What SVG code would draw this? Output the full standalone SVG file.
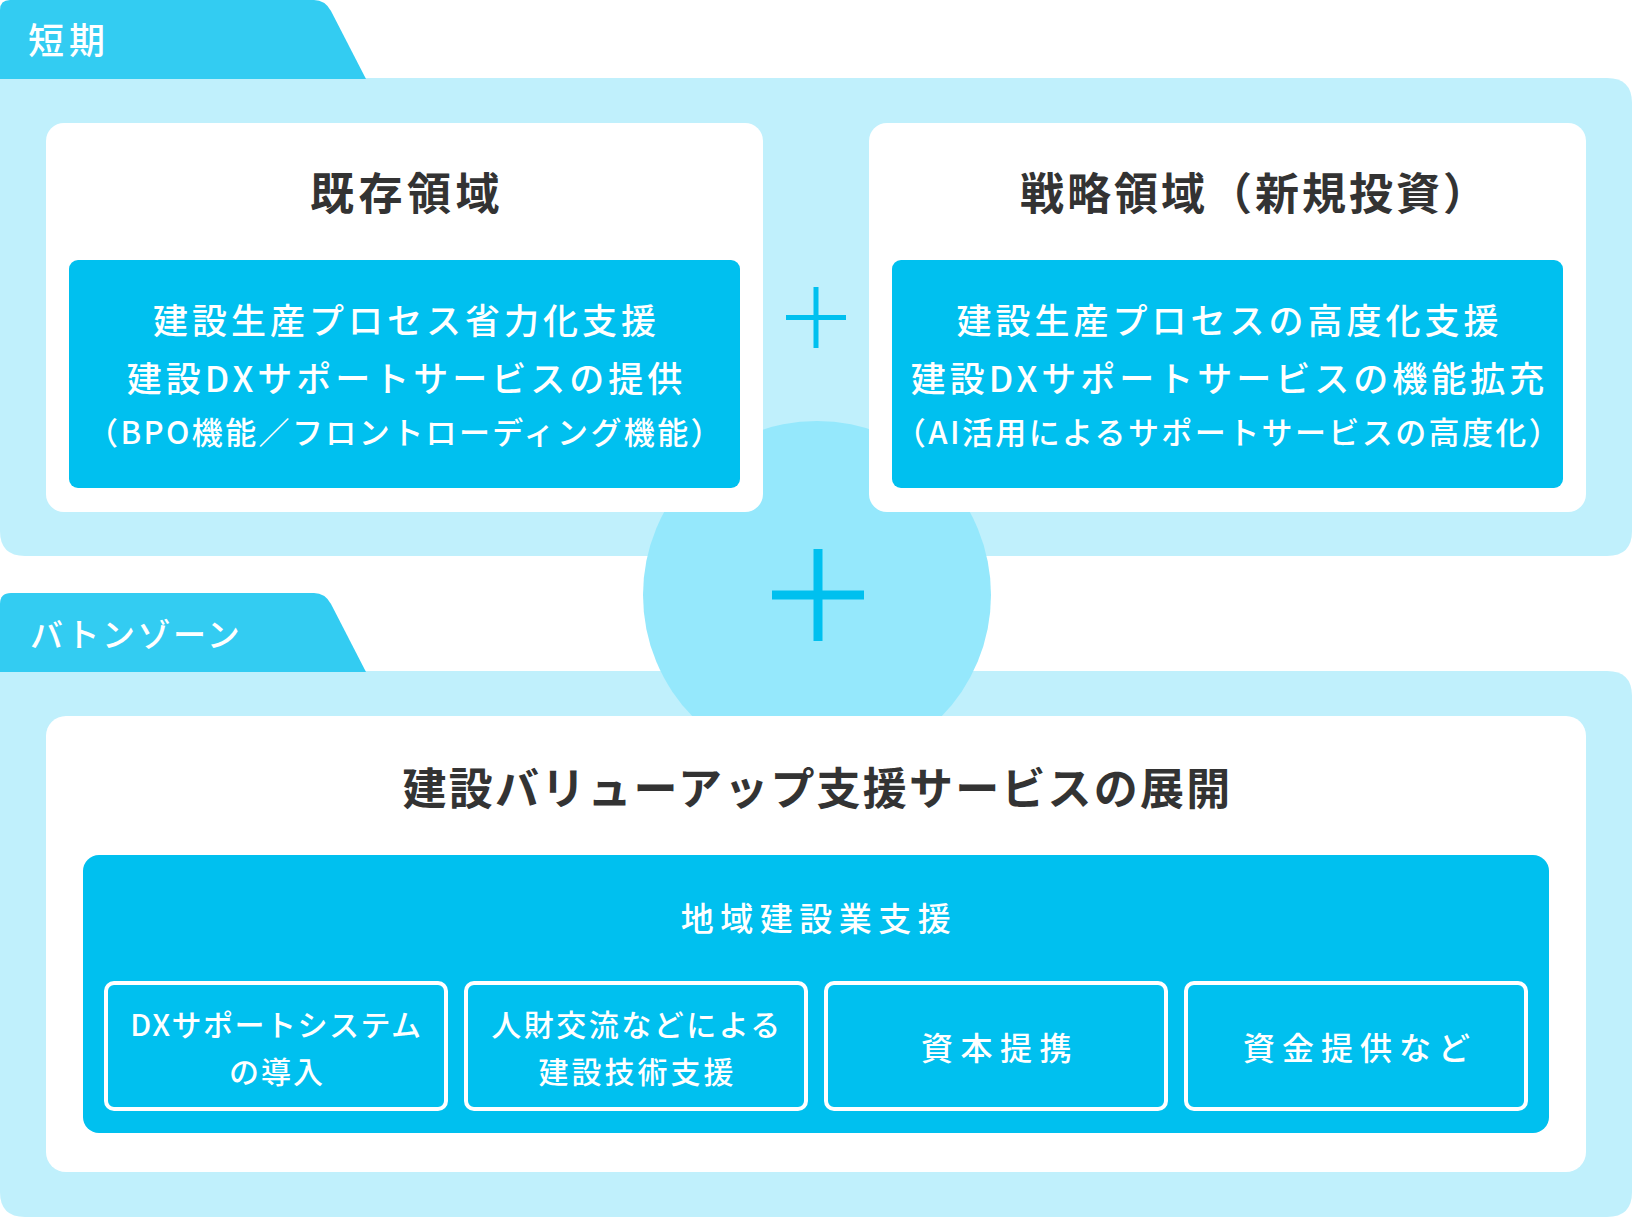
<svg xmlns="http://www.w3.org/2000/svg" width="1632" height="1219" viewBox="0 0 1632 1219">
  <style>
    text { font-family: "Noto Sans CJK JP", "Noto Sans", sans-serif; }
    .band { fill: #c0f0fc; }
    .tab { fill: #33ccf2; }
    .tabtxt { fill: #ffffff; font-weight: 500; }
    .card { fill: #ffffff; }
    .blue { fill: #00c0ef; }
    .title { fill: #333333; font-weight: 700; font-size: 44px; text-anchor: middle; }
    .wt { fill: #ffffff; font-weight: 500; text-anchor: middle; }
    .sub { fill: none; stroke: #ffffff; stroke-width: 4; }
    .plus { stroke: #00c0ef; fill: none; }
  </style>

  <!-- bands and tabs -->
  <g id="band-short">
    <path class="band" d="M0,78 H1607 Q1632,78 1632,103 V531 Q1632,556 1607,556 H25 Q0,556 0,531 Z"/>
    <path class="tab" d="M0,79 V10 Q0,0 10,0 H314 Q325,0 331,11 L366,79 Z"/>
    <text class="tabtxt" x="28" y="54" font-size="36" letter-spacing="5">短期</text>
  </g>
  <g id="band-baton">
    <path class="band" d="M0,671 H1607 Q1632,671 1632,696 V1192 Q1632,1217 1607,1217 H25 Q0,1217 0,1192 Z"/>
    <path class="tab" d="M0,672 V604 Q0,593 11,593 H314 Q325,593 331,604 L366,672 Z"/>
    <text class="tabtxt" x="30" y="647" font-size="33" letter-spacing="2.5">バトンゾーン</text>
  </g>

  <!-- central circle behind cards -->
  <circle id="join-circle" cx="817" cy="595" r="174" fill="#95e8fc"/>

  <!-- existing domain -->
  <g id="existing">
    <rect class="card" x="46" y="123" width="717" height="389" rx="18"/>
    <text class="title" x="407" y="210" letter-spacing="4.5">既存領域</text>
    <rect class="blue" x="69" y="260" width="671" height="228" rx="9"/>
    <text class="wt" x="406.5" y="334" font-size="35" letter-spacing="4">建設生産プロセス省力化支援</text>
    <text class="wt" x="406.5" y="392" font-size="35" letter-spacing="4">建設DXサポートサービスの提供</text>
    <text class="wt" x="405.5" y="444" font-size="31" letter-spacing="2.4">（BPO機能／フロントローディング機能）</text>
  </g>

  <!-- strategic domain -->
  <g id="strategic">
    <rect class="card" x="869" y="123" width="717" height="389" rx="18"/>
    <text class="title" x="1255" y="210" letter-spacing="3">戦略領域（新規投資）</text>
    <rect class="blue" x="892" y="260" width="671" height="228" rx="9"/>
    <text class="wt" x="1229.5" y="334" font-size="35" letter-spacing="4">建設生産プロセスの高度化支援</text>
    <text class="wt" x="1229.5" y="392" font-size="35" letter-spacing="4">建設DXサポートサービスの機能拡充</text>
    <text class="wt" x="1228.5" y="444" font-size="31" letter-spacing="2.4">（AI活用によるサポートサービスの高度化）</text>
  </g>

  <!-- baton zone -->
  <g id="value-up">
    <rect class="card" x="46" y="716" width="1540" height="456" rx="20"/>
    <text class="title" x="817.5" y="805" letter-spacing="2.2">建設バリューアップ支援サービスの展開</text>
    <rect class="blue" x="83" y="855" width="1466" height="278" rx="16"/>
    <text class="wt" x="819" y="931" font-size="33" letter-spacing="6.5">地域建設業支援</text>
  </g>
  <g id="item-dx">
    <rect class="sub" x="106" y="983" width="340" height="126" rx="8"/>
    <text class="wt" x="276.5" y="1036" font-size="30" letter-spacing="1.5">DXサポートシステム</text>
    <text class="wt" x="277" y="1083" font-size="30" letter-spacing="2">の導入</text>
  </g>
  <g id="item-hr">
    <rect class="sub" x="466" y="983" width="340" height="126" rx="8"/>
    <text class="wt" x="637" y="1036" font-size="30" letter-spacing="2.5">人財交流などによる</text>
    <text class="wt" x="637.5" y="1083" font-size="30" letter-spacing="3">建設技術支援</text>
  </g>
  <g id="item-capital">
    <rect class="sub" x="826" y="983" width="340" height="126" rx="8"/>
    <text class="wt" x="1000" y="1060" font-size="32" letter-spacing="7.5">資本提携</text>
  </g>
  <g id="item-fund">
    <rect class="sub" x="1186" y="983" width="340" height="126" rx="8"/>
    <text class="wt" x="1360" y="1060" font-size="32" letter-spacing="7">資金提供など</text>
  </g>

  <!-- plus operators -->
  <g id="connectors">
    <path class="plus" stroke-width="5" d="M786,317.5 H846 M816,287 V348"/>
    <path class="plus" stroke-width="9" d="M772,595 H864 M818,549 V641"/>
  </g>
</svg>
